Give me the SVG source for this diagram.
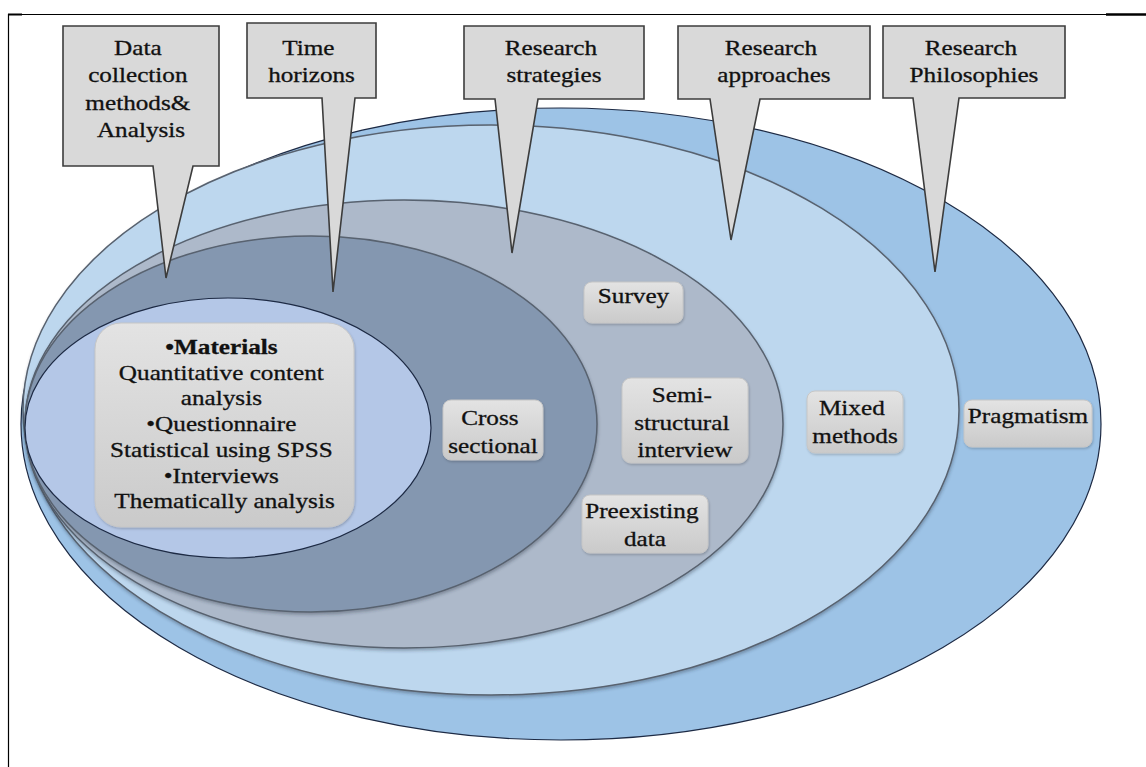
<svg xmlns="http://www.w3.org/2000/svg" width="1146" height="767" viewBox="0 0 1146 767">
  <style>
    .ring { stroke: #58626f; stroke-width: 1.5; filter: url(#ringShadow); }
    .edge { stroke: #1d2a44; stroke-width: 1.2; }
    .callout { fill: #d9d9d9; stroke: #3c3c3c; stroke-width: 1.6; stroke-linejoin: miter; }
    .label { fill: url(#labelFill); stroke: #c6c6c6; stroke-width: 1; filter: url(#labelShadow); }
    .t { font-family: 'Liberation Serif', 'Times New Roman', serif; font-size: 21px; fill: #111; stroke: #111; stroke-width: 0.3; text-anchor: middle; }
    .b { font-weight: bold; }
  </style>
  <defs>
    <linearGradient id="labelFill" x1="0" y1="0" x2="0" y2="1">
      <stop offset="0" stop-color="#e3e3e3"/>
      <stop offset="1" stop-color="#cacaca"/>
    </linearGradient>
    <filter id="labelShadow" x="-10%" y="-10%" width="120%" height="130%">
      <feDropShadow dx="0.8" dy="1.5" stdDeviation="1.2" flood-color="#000" flood-opacity="0.2"/>
    </filter>
    <filter id="ringShadow" x="-5%" y="-5%" width="110%" height="112%">
      <feDropShadow dx="0.5" dy="2.2" stdDeviation="1.4" flood-color="#2a3444" flood-opacity="0.35"/>
    </filter>
  </defs>

  <rect width="1146" height="767" fill="#ffffff"/>

  <!-- page frame -->
  <g id="frame" stroke="#000" fill="none">
    <line x1="8" y1="14.5" x2="1146" y2="14.5" stroke-width="1"/>
    <line x1="8.5" y1="14" x2="8.5" y2="767" stroke-width="1.2"/>
    <line x1="8" y1="14.5" x2="22" y2="14.5" stroke-width="2"/>
    <line x1="1106" y1="14.5" x2="1146" y2="14.5" stroke-width="2.5"/>
  </g>

  <!-- nested layers, outermost first -->
  <g id="layers">
    <ellipse id="layer-philosophies" class="edge" cx="561" cy="424" rx="540" ry="316" fill="#9dc3e6"/>
    <ellipse id="layer-approaches" class="ring" cx="491" cy="410" rx="468" ry="285" fill="#bdd7ee"/>
    <ellipse id="layer-strategies" class="ring" cx="404" cy="424" rx="379" ry="224" fill="#adb9ca"/>
    <ellipse id="layer-time" class="ring" cx="311" cy="424" rx="286" ry="188" fill="#8497b0"/>
    <ellipse id="layer-methods" class="edge" cx="228" cy="428" rx="203" ry="130" fill="#b4c7e7"/>
  </g>

  <!-- callouts pointing into each layer -->
  <g id="callout-data">
    <path class="callout" d="M63,26 H219 V166 H193 L166,278 L153,166 H63 Z"/>
    <text class="t" transform="translate(141 0) scale(1.2 1)">
      <tspan x="0" y="55">Data</tspan>
      <tspan x="0" y="82.5">collection</tspan>
      <tspan x="0" y="110">methods&amp;</tspan>
      <tspan x="0" y="137.5">Analysis</tspan>
    </text>
  </g>
  <g id="callout-time">
    <path class="callout" d="M247,23 H376 V98 H355 L333,292 L322,98 H247 Z"/>
    <text class="t" transform="translate(311.5 0) scale(1.2 1)">
      <tspan x="0" y="55">Time</tspan>
      <tspan x="0" y="82">horizons</tspan>
    </text>
  </g>
  <g id="callout-strategies">
    <path class="callout" d="M464,26 H644 V99 H538 L512,253 L495,99 H464 Z"/>
    <text class="t" transform="translate(554 0) scale(1.2 1)">
      <tspan x="0" y="55">Research</tspan>
      <tspan x="0" y="82">strategies</tspan>
    </text>
  </g>
  <g id="callout-approaches">
    <path class="callout" d="M678,26 H870 V99 H760 L731,240 L710,99 H678 Z"/>
    <text class="t" transform="translate(774 0) scale(1.2 1)">
      <tspan x="0" y="55">Research</tspan>
      <tspan x="0" y="82">approaches</tspan>
    </text>
  </g>
  <g id="callout-philosophies">
    <path class="callout" d="M883,26 H1065 V98 H959 L935,272 L913,98 H883 Z"/>
    <text class="t" transform="translate(974 0) scale(1.2 1)">
      <tspan x="0" y="55">Research</tspan>
      <tspan x="0" y="82">Philosophies</tspan>
    </text>
  </g>

  <!-- labels inside the layers -->
  <g id="label-materials">
    <rect class="label" x="95" y="323" width="259" height="204" rx="26"/>
    <text class="t" transform="translate(224.5 0) scale(1.2 1)">
      <tspan x="0" y="354" class="b">•Materials</tspan>
      <tspan x="0" y="380">Quantitative content</tspan>
      <tspan x="0" y="405">analysis</tspan>
      <tspan x="0" y="431">•Questionnaire</tspan>
      <tspan x="0" y="457">Statistical using SPSS</tspan>
      <tspan x="0" y="483">•Interviews</tspan>
      <tspan x="0" y="508">Thematically analysis</tspan>
    </text>
  </g>
  <g id="label-cross">
    <rect class="label" x="443" y="400" width="100" height="60" rx="8"/>
    <text class="t" transform="translate(493 0) scale(1.2 1)">
      <tspan x="0" y="425">Cross</tspan>
      <tspan x="0" y="453">sectional</tspan>
    </text>
  </g>
  <g id="label-survey">
    <rect class="label" x="584" y="282" width="99" height="41" rx="8"/>
    <text class="t" transform="translate(633.5 0) scale(1.2 1)">
      <tspan x="0" y="303">Survey</tspan>
    </text>
  </g>
  <g id="label-semi">
    <rect class="label" x="622" y="378" width="126" height="85" rx="9"/>
    <text class="t" transform="translate(685 0) scale(1.2 1)">
      <tspan x="0" y="402">Semi-</tspan>
      <tspan x="0" y="430">structural</tspan>
      <tspan x="0" y="457">interview</tspan>
    </text>
  </g>
  <g id="label-preexisting">
    <rect class="label" x="582" y="495" width="126" height="58" rx="8"/>
    <text class="t" transform="translate(645 0) scale(1.2 1)">
      <tspan x="0" y="518">Preexisting</tspan>
      <tspan x="0" y="546">data</tspan>
    </text>
  </g>
  <g id="label-mixed">
    <rect class="label" x="807" y="391" width="96" height="62" rx="8"/>
    <text class="t" transform="translate(855 0) scale(1.2 1)">
      <tspan x="0" y="415">Mixed</tspan>
      <tspan x="0" y="443">methods</tspan>
    </text>
  </g>
  <g id="label-pragmatism">
    <rect class="label" x="964" y="400" width="128" height="47" rx="8"/>
    <text class="t" transform="translate(1028 0) scale(1.2 1)">
      <tspan x="0" y="423">Pragmatism</tspan>
    </text>
  </g>
</svg>
